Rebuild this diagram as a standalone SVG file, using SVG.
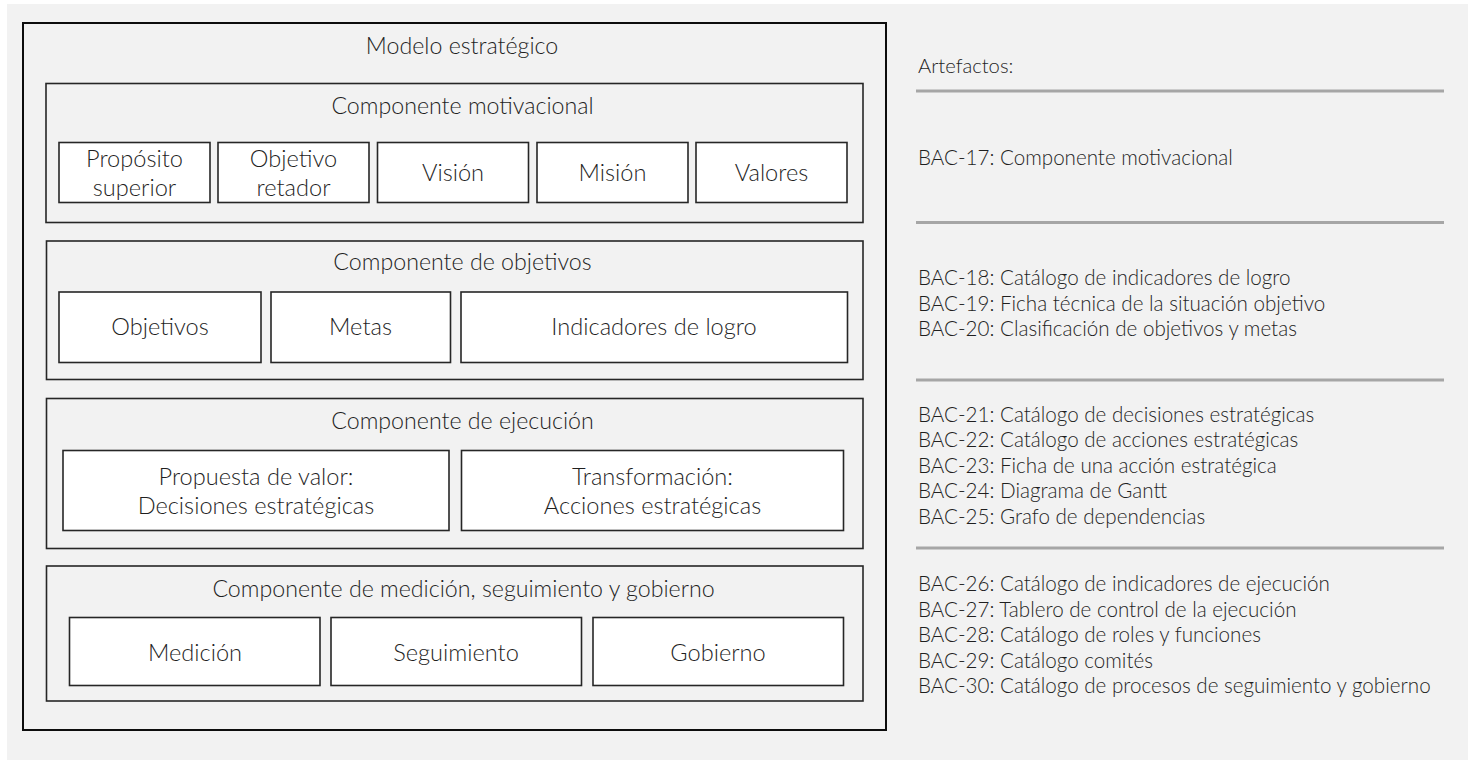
<svg xmlns="http://www.w3.org/2000/svg" width="1468" height="760" viewBox="0 0 1468 760">
<style>
.bg{fill:#f2f2f2}
.outer{fill:none;stroke:#0d0d0d;stroke-width:2}
.comp{fill:#f2f2f2;stroke:#262626;stroke-width:1.6}
.box{fill:#ffffff;stroke:#262626;stroke-width:1.6}
text{font-family:Lato,"Open Sans","Liberation Sans",sans-serif;font-weight:300;fill:#1f1f1f}
.t{font-size:23.2px;text-anchor:middle}
.b{font-size:23.6px;text-anchor:middle}
.a{font-size:20.6px}
.h{font-size:20.2px}
.sep{stroke:#a6a6a6;stroke-width:3}
</style>
<rect class="bg" x="7" y="4" width="1461" height="756"/>
<g id="modelo">
<rect class="outer" x="23" y="23" width="863" height="707"/>
<text class="t" x="462" y="54">Modelo estratégico</text>
</g>
<g id="comp-motivacional">
<rect class="comp" x="46" y="83.5" width="817" height="139"/>
<text class="t" x="462.5" y="114">Componente motivacional</text>
</g>
<g id="proposito">
<rect class="box" x="59" y="142.5" width="151" height="60"/>
<text class="b" x="134.5" y="166.5">Propósito</text>
<text class="b" x="134.5" y="195.5">superior</text>
</g>
<g id="objetivo-retador">
<rect class="box" x="218" y="142.5" width="151" height="60"/>
<text class="b" x="293.5" y="166.5">Objetivo</text>
<text class="b" x="293.5" y="195.5">retador</text>
</g>
<g id="vision">
<rect class="box" x="377.5" y="142.5" width="151" height="60"/>
<text class="b" x="453" y="181">Visión</text>
</g>
<g id="mision">
<rect class="box" x="537" y="142.5" width="151" height="60"/>
<text class="b" x="612.5" y="181">Misión</text>
</g>
<g id="valores">
<rect class="box" x="696" y="142.5" width="151" height="60"/>
<text class="b" x="771.5" y="181">Valores</text>
</g>
<g id="comp-objetivos">
<rect class="comp" x="46.5" y="241" width="816.5" height="138.5"/>
<text class="t" x="462.5" y="270">Componente de objetivos</text>
</g>
<g id="objetivos">
<rect class="box" x="59" y="292" width="202" height="70.5"/>
<text class="b" x="160" y="335">Objetivos</text>
</g>
<g id="metas">
<rect class="box" x="271" y="292" width="179.5" height="70.5"/>
<text class="b" x="360.5" y="335">Metas</text>
</g>
<g id="indicadores">
<rect class="box" x="461" y="292" width="386.5" height="70.5"/>
<text class="b" x="654" y="335">Indicadores de logro</text>
</g>
<g id="comp-ejecucion">
<rect class="comp" x="46.5" y="398.5" width="816.5" height="150"/>
<text class="t" x="462.5" y="429">Componente de ejecución</text>
</g>
<g id="propuesta">
<rect class="box" x="63" y="450.5" width="386" height="80"/>
<text class="b" x="256" y="485">Propuesta de valor:</text>
<text class="b" x="256" y="514">Decisiones estratégicas</text>
</g>
<g id="transformacion">
<rect class="box" x="461.5" y="450.5" width="382" height="80"/>
<text class="b" x="652.5" y="485">Transformación:</text>
<text class="b" x="652.5" y="514">Acciones estratégicas</text>
</g>
<g id="comp-medicion">
<rect class="comp" x="46.5" y="566" width="816.5" height="135"/>
<text class="t" x="463.5" y="596.5">Componente de medición, seguimiento y gobierno</text>
</g>
<g id="medicion">
<rect class="box" x="69.5" y="617.5" width="250.5" height="68"/>
<text class="b" x="195" y="661">Medición</text>
</g>
<g id="seguimiento">
<rect class="box" x="331" y="617.5" width="250.5" height="68"/>
<text class="b" x="456" y="661">Seguimiento</text>
</g>
<g id="gobierno">
<rect class="box" x="593" y="617.5" width="250.5" height="68"/>
<text class="b" x="718" y="661">Gobierno</text>
</g>
<g id="connectors">
<line class="sep" x1="916" y1="91" x2="1444" y2="91"/>
<line class="sep" x1="916" y1="222.5" x2="1444" y2="222.5"/>
<line class="sep" x1="916" y1="380" x2="1444" y2="380"/>
<line class="sep" x1="916" y1="548" x2="1444" y2="548"/>
</g>
<g id="artefactos">
<text class="h" x="918" y="72.5">Artefactos:</text>
<text class="a" x="918" y="165">BAC-17: Componente motivacional</text>
<text class="a" x="918" y="285">BAC-18: Catálogo de indicadores de logro</text>
<text class="a" x="918" y="310.5">BAC-19: Ficha técnica de la situación objetivo</text>
<text class="a" x="918" y="336">BAC-20: Clasificación de objetivos y metas</text>
<text class="a" x="918" y="421.5">BAC-21: Catálogo de decisiones estratégicas</text>
<text class="a" x="918" y="447">BAC-22: Catálogo de acciones estratégicas</text>
<text class="a" x="918" y="472.5">BAC-23: Ficha de una acción estratégica</text>
<text class="a" x="918" y="498">BAC-24: Diagrama de Gantt</text>
<text class="a" x="918" y="523.5">BAC-25: Grafo de dependencias</text>
<text class="a" x="918" y="591">BAC-26: Catálogo de indicadores de ejecución</text>
<text class="a" x="918" y="616.5">BAC-27: Tablero de control de la ejecución</text>
<text class="a" x="918" y="642">BAC-28: Catálogo de roles y funciones</text>
<text class="a" x="918" y="667.5">BAC-29: Catálogo comités</text>
<text class="a" x="918" y="693">BAC-30: Catálogo de procesos de seguimiento y gobierno</text>
</g>
</svg>
